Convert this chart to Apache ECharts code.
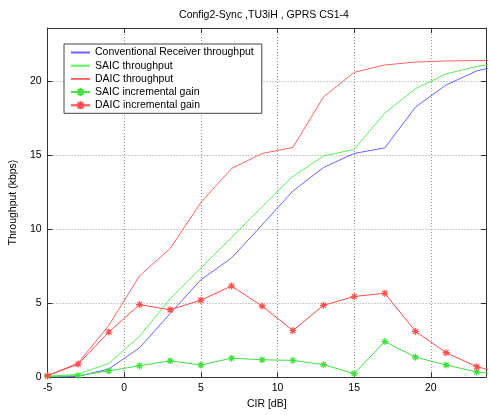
<!DOCTYPE html>
<html>
<head>
<meta charset="utf-8">
<script src="https://cdn.jsdelivr.net/npm/echarts@6/dist/echarts.min.js"></script>
<style>html,body{margin:0;padding:0;background:#fff}#c{width:489px;height:415px}</style>
</head>
<body>
<div id="c"></div>
<script>
const cir = [-5, -3, -1, 1, 3, 5, 7, 9, 11, 13, 15, 17, 19, 21, 23, 25];
const conventional = [0.0, 0.05, 0.55, 1.98, 4.3, 6.58, 8.05, 10.3, 12.58, 14.17, 15.12, 15.5, 18.25, 19.75, 20.7, 21.2];
const saicThroughput = [0.05, 0.2, 0.93, 2.75, 5.3, 7.37, 9.43, 11.52, 13.57, 14.95, 15.39, 17.85, 19.5, 20.5, 21.0, 21.3];
const daicThroughput = [0.1, 0.95, 3.5, 6.85, 8.7, 11.8, 14.1, 15.12, 15.52, 18.94, 20.6, 21.1, 21.3, 21.37, 21.4, 21.4];
const saicGain = [0.05, 0.1, 0.42, 0.77, 1.1, 0.82, 1.28, 1.17, 1.13, 0.84, 0.24, 2.4, 1.35, 0.82, 0.35, 0.12];
const daicGain = [0.1, 0.88, 3.05, 4.9, 4.55, 5.2, 6.16, 4.8, 3.15, 4.85, 5.45, 5.67, 3.09, 1.65, 0.7, 0.2];
const xTicks = [-5, 0, 5, 10, 15, 20];
const yTicks = [0, 5, 10, 15, 20];
const names = ['Conventional Receiver throughput', 'SAIC throughput', 'DAIC throughput', 'SAIC incremental gain', 'DAIC incremental gain'];

const FONT = "'Liberation Sans', Arial, sans-serif";
const FS = 10.5;
const star = 'path://M0,-4L0,4M-4,0L4,0M-2.9,-2.9L2.9,2.9M-2.9,2.9L2.9,-2.9';
function pairs(ys) { return cir.map((x, i) => [x, ys[i]]); }
const chart = echarts.init(document.getElementById('c'), null, {renderer: 'canvas'});
const tickFmtX = v => (xTicks.indexOf(v) >= 0 ? String(v) : '');
const tickFmtY = v => (yTicks.indexOf(v) >= 0 ? String(v) : '');
const axisLine = {show: true, onZero: false, lineStyle: {color: '#333', width: 1}};
const axisTick = {show: true, inside: true, length: 5, lineStyle: {color: '#333'}};
function lineSeries(name, ys, color, marker) {
  return {
    name: name, type: 'line', data: pairs(ys), clip: true,
    symbol: marker ? star : 'none', symbolSize: 7, showSymbol: !!marker,
    lineStyle: {color: color, width: 1},
    itemStyle: {color: 'rgba(0,0,0,0)', borderColor: color, borderWidth: 1.2},
    emphasis: {disabled: true}, animation: false
  };
}
const legendData = names.map((n, i) => i < 3 ? {name: n, itemStyle: {opacity: 0}} : {name: n});
chart.setOption({
  animation: false,
  textStyle: {fontFamily: FONT},
  grid: {left: 39, right: 0, top: 28, bottom: 30.5},
  graphic: [{type: 'text', x: 264, y: 15, style: {text: 'Config2-Sync ,TU3iH , GPRS CS1-4', font: FS + 'px ' + FONT, fill: '#000', textAlign: 'center', textVerticalAlign: 'middle'}}],
  legend: {
    orient: 'vertical', left: 64, top: 44, data: legendData,
    backgroundColor: '#fff', borderColor: '#444', borderWidth: 1, borderRadius: 0,
    padding: [3, 8, 2.5, 6], itemWidth: 19, itemHeight: 10, itemGap: 2.2,
    textStyle: {fontSize: FS, color: '#000', fontFamily: FONT},
    selectedMode: false
  },
  xAxis: [{
    type: 'value', min: -5, max: 23.6, interval: 5,
    name: 'CIR [dB]', nameLocation: 'middle', nameGap: 18,
    nameTextStyle: {fontSize: FS, color: '#000', fontFamily: FONT},
    axisLine: axisLine, axisTick: axisTick,
    axisLabel: {fontSize: FS, color: '#000', margin: 6, formatter: tickFmtX, fontFamily: FONT},
    splitLine: {show: true, lineStyle: {color: '#999', type: [1, 2], width: 1}}
  }, {
    type: 'value', position: 'top', min: -5, max: 23.6, interval: 5,
    axisLine: axisLine, axisTick: axisTick, axisLabel: {show: false}, splitLine: {show: false}
  }],
  yAxis: [{
    type: 'value', min: 0, max: 23.6, interval: 5,
    name: 'Throughput (kbps)', nameLocation: 'middle', nameGap: 24,
    nameTextStyle: {fontSize: FS, color: '#000', fontFamily: FONT},
    axisLine: axisLine, axisTick: axisTick,
    axisLabel: {fontSize: FS, color: '#000', margin: 6, formatter: tickFmtY, fontFamily: FONT},
    splitLine: {show: true, lineStyle: {color: '#999', type: [1, 2], width: 1}}
  }, {
    type: 'value', position: 'right', min: 0, max: 23.6, interval: 5,
    axisLine: axisLine, axisTick: axisTick, axisLabel: {show: false}, splitLine: {show: false}
  }],
  series: [
    lineSeries(names[0], conventional, '#6464ff', false),
    lineSeries(names[1], saicThroughput, '#5af05a', false),
    lineSeries(names[2], daicThroughput, '#ff6464', false),
    lineSeries(names[3], saicGain, '#40e040', true),
    lineSeries(names[4], daicGain, '#ff4c4c', true)
  ]
});
</script>
</body>
</html>
